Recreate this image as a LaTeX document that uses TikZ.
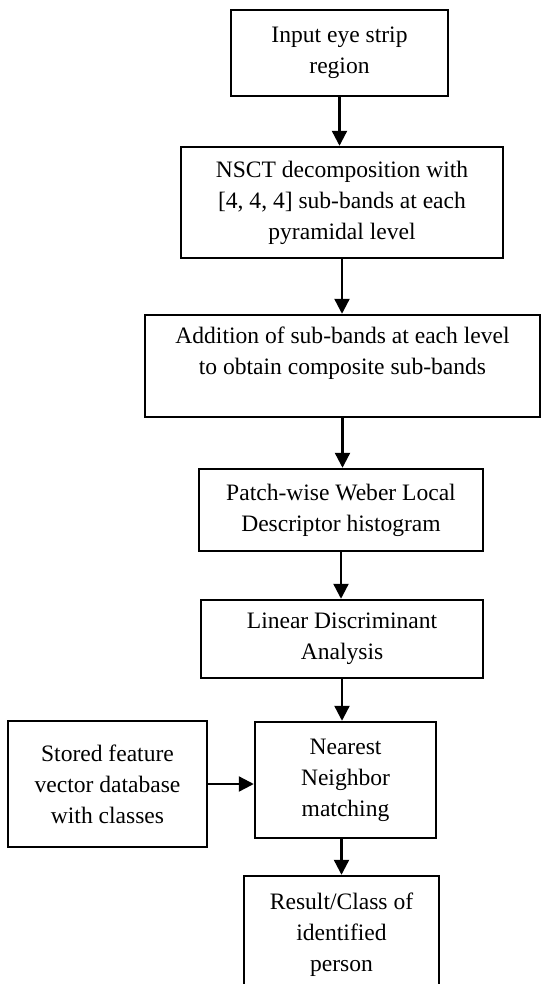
\documentclass[tikz,border=0pt]{standalone}
\usepackage{fontspec}
\setmainfont{Liberation Serif}
\usetikzlibrary{arrows.meta}
\tikzset{
  stepbox/.style={draw, line width=1.4pt, inner sep=0pt, align=center,
    font=\fontsize{13.4}{17.6}\selectfont},
  flow/.style={line width=1.3pt, -{Triangle[length=0.3cm,width=0.3cm]}}
}
\begin{document}
\begin{tikzpicture}
      \useasboundingbox (0,0) rectangle (10.82,-19.68);
      \draw
        (6.79,-1.06) node[stepbox, minimum width=4.34cm, minimum height=1.72cm] (input)
          {Input eye strip\\region}
        (6.84,-4.05) node[stepbox, minimum width=6.44cm, minimum height=2.22cm] (nsct)
          {NSCT decomposition with\\{[}4, 4, 4{]} sub-bands at each\\pyramidal level}
        (6.85,-7.32) node[stepbox, minimum width=7.9cm, minimum height=2.04cm] (add)
          {Addition of sub-bands at each level\\to obtain composite sub-bands\\~}
        (6.82,-10.2) node[stepbox, minimum width=5.68cm, minimum height=1.64cm] (wld)
          {Patch-wise Weber Local\\Descriptor histogram}
        (6.84,-12.78) node[stepbox, minimum width=5.64cm, minimum height=1.56cm] (lda)
          {Linear Discriminant\\Analysis}
        (6.91,-15.6) node[stepbox, minimum width=3.62cm, minimum height=2.32cm] (nn)
          {Nearest\\Neighbor\\matching}
        (2.15,-15.68) node[stepbox, minimum width=3.98cm, minimum height=2.52cm] (db)
          {Stored feature\\vector database\\with classes}
        (6.83,-18.7) node[stepbox, minimum width=3.9cm, minimum height=2.36cm] (result)
          {Result/Class of\\identified\\person};
      \begin{scope}[flow]
        \draw (input.south) to (input.south |- nsct.north);
        \draw (nsct.south) to (nsct.south |- add.north);
        \draw (add.south) to (add.south |- wld.north);
        \draw (wld.south) to (wld.south |- lda.north);
        \draw (lda.south) to (lda.south |- nn.north);
        \draw (db.east) to (db.east -| nn.west);
        \draw (result.north |- nn.south) to (result.north);
      \end{scope}
    \end{tikzpicture}
\end{document}
